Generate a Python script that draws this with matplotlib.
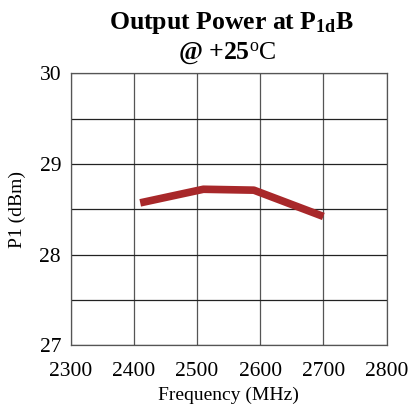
import numpy as np
import matplotlib
matplotlib.use('Agg')
import matplotlib.pyplot as plt

plt.rcParams['font.family'] = 'Liberation Serif'
plt.rcParams['mathtext.fontset'] = 'custom'
plt.rcParams['mathtext.rm'] = 'Liberation Serif'
plt.rcParams['mathtext.bf'] = 'Liberation Serif:bold'
plt.rcParams['mathtext.it'] = 'Liberation Serif:italic'

#Measured P1dB vs frequency
freq = [2410, 2510, 2590, 2700]
p1 = [28.57, 28.72, 28.71, 28.42]

x_ticks = [2300, 2400, 2500, 2600, 2700, 2800]
y_ticks = [27, 28, 29, 30]

fig = plt.figure(figsize=(4.09, 4.09), dpi=100)
ax = fig.add_axes([0.173, 0.156, 0.772, 0.665])

ax.plot(freq, p1, color='#a8282a', linewidth=5.5, solid_capstyle='butt', zorder=3)

ax.set_xlim(2300, 2800)
ax.set_ylim(27, 30)
ax.set_xticks(x_ticks)
ax.set_yticks(y_ticks)
ax.set_yticks(np.arange(27, 30.01, 0.5), minor=True)
ax.tick_params(which='both', length=0, labelsize=15.5)
ax.tick_params(axis='x', pad=12)
ax.tick_params(axis='y', pad=7)
ax.grid(True, which='both', axis='y', color='#222222', linewidth=0.9)
ax.grid(True, which='major', axis='x', color='#555555', linewidth=0.9)
for s in ax.spines.values():
    s.set_color('#555555')
    s.set_linewidth(0.9)

ax.set_xlabel('Frequency (MHz)', fontsize=14, labelpad=4)
ax.set_ylabel('P1 (dBm)', fontsize=14, labelpad=10)

fig.text(0.565, 0.943, r'Output Power at P$_{\mathbf{1d}}$B', ha='center', va='center',
         fontsize=18.5, fontweight='bold')
fig.text(0.555, 0.868, r'@ +25$^{\mathrm{o}}\mathrm{C}$', ha='center', va='center',
         fontsize=18.5, fontweight='bold')

plt.savefig('out.png', dpi=100)
plt.close()
